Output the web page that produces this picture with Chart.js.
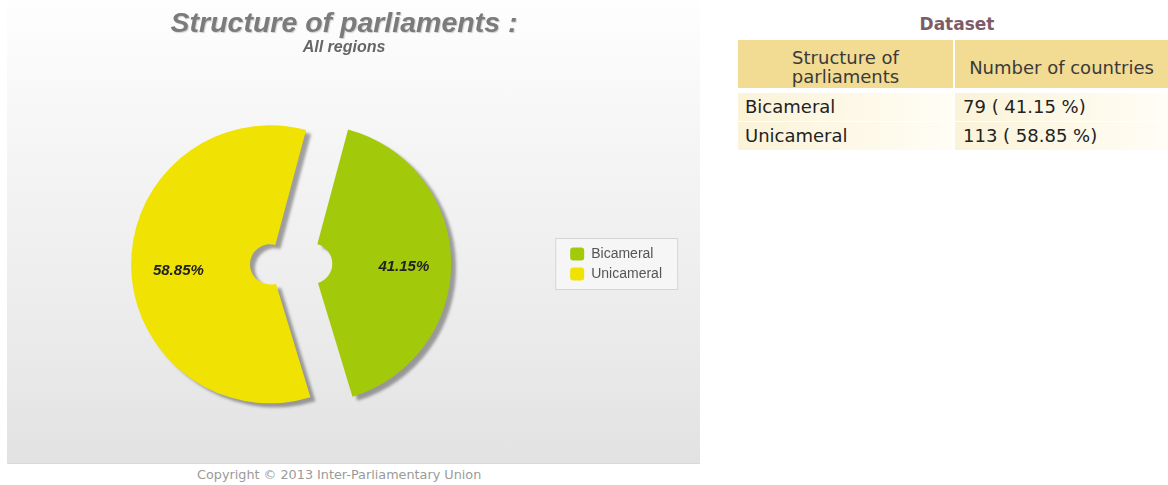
<!DOCTYPE html>
<html>
<head>
<meta charset="utf-8">
<title>Structure of parliaments</title>
<script src="https://cdn.jsdelivr.net/npm/chart.js@4.4.0/dist/chart.umd.min.js"></script>
<style>
  html, body { margin: 0; padding: 0; background: #fff; }
  body { width: 1168px; height: 485px; position: relative; overflow: hidden; font-family: "DejaVu Sans", Verdana, sans-serif; }
  #panel {
    position: absolute; left: 7px; top: 0; width: 693px; height: 463px;
    background: linear-gradient(to bottom, #fefefe 0%, #f4f4f4 35%, #eaeaea 75%, #e2e2e2 100%);
    border-bottom: 1px solid #d9d9d9;
  }
  #chartBox { position: absolute; left: 0; top: 0; width: 700px; height: 463px; }
  #title {
    position: absolute; left: 0; width: 688px; top: 8px; text-align: center;
    font: italic bold 28.5px/28px "Liberation Sans", Arial, sans-serif; color: #7b7b7b;
    text-shadow: 1px 1px 1px rgba(0, 0, 0, 0.18);
  }
  #subtitle {
    position: absolute; left: 0; width: 688px; top: 39px; text-align: center;
    font: italic bold 16px/15px "Liberation Sans", Arial, sans-serif; color: #666;
  }
  #copyright { position: absolute; left: 197px; top: 468px; font-size: 12.8px; line-height: 13px; color: #9a9a9a; white-space: nowrap; }
  #datasetTitle { position: absolute; left: 900px; width: 114px; top: 16px; text-align: center; font-weight: bold; font-size: 17px; line-height: 17px; color: #7d5c66; }
  .cell { position: absolute; box-sizing: border-box; font-size: 18px; color: #222; white-space: nowrap; }
  .head { background: #f2db92; color: #3a3a3a; text-align: center; line-height: 19px; display: flex; align-items: center; justify-content: center; padding-top: 6px; }
  .row { background: linear-gradient(to right, #fbf3d8, #fffdf5); line-height: 28px; }
</style>
</head>
<body>
  <div id="panel"></div>
  <div id="chartBox"><canvas id="structureChart"></canvas></div>
  <div id="title">Structure of parliaments :</div>
  <div id="subtitle">All regions</div>
  <div id="copyright">Copyright © 2013 Inter-Parliamentary Union</div>

  <div id="datasetTitle">Dataset</div>
  <div id="table"></div>

<script>
  // Data
  const parliamentLabels = ['Bicameral', 'Unicameral'];
  const countryCounts = [79, 113];
  const sliceColors = ['#a3c90b', '#f0e202'];
  const tableHeaders = ['Structure of<br>parliaments', 'Number of countries'];

  const total = countryCounts.reduce((a, b) => a + b, 0);
  const percents = countryCounts.map(v => (v / total * 100).toFixed(2));

  // Build the dataset table on the right
  const table = document.getElementById('table');
  const colLeft = [738, 955];
  const colWidth = [215, 213];

  tableHeaders.forEach((text, c) => {
    const cell = document.createElement('div');
    cell.className = 'cell head';
    cell.style.left = colLeft[c] + 'px';
    cell.style.width = colWidth[c] + 'px';
    cell.style.top = '40px';
    cell.style.height = '48px';
    cell.innerHTML = text;
    table.appendChild(cell);
  });

  parliamentLabels.forEach((label, i) => {
    const values = [label, countryCounts[i] + ' ( ' + percents[i] + ' %)'];
    values.forEach((text, c) => {
      const cell = document.createElement('div');
      cell.className = 'cell row';
      cell.style.left = colLeft[c] + 'px';
      cell.style.width = colWidth[c] + 'px';
      cell.style.top = (93 + i * 29) + 'px';
      cell.style.height = '28px';
      cell.style.paddingLeft = (c === 0 ? 7 : 8) + 'px';
      cell.textContent = text;
      table.appendChild(cell);
    });
  });

  // How far each slice is pulled out from the centre
  const explode = 21;

  // Draw the legend frame behind the legend items
  const legendFrame = {
    id: 'legendFrame',
    beforeDraw(chart) {
      const boxes = chart.legend && chart.legend.legendHitBoxes;
      if (!boxes || !boxes.length) return;
      const first = boxes[0];
      const last = boxes[boxes.length - 1];
      const x = first.left - 15;
      const y = first.top - 9;
      const h = last.top + last.height + 9 - y;
      const ctx = chart.ctx;
      ctx.save();
      ctx.fillStyle = '#f6f6f6';
      ctx.strokeStyle = '#d4d4d4';
      ctx.lineWidth = 1;
      ctx.fillRect(x, y, 123, h);
      ctx.strokeRect(x + 0.5, y + 0.5, 122, h - 1);
      ctx.restore();
    }
  };

  // Exploded slices with a soft drop shadow
  const explodePlugin = {
    id: 'explode',
    beforeDatasetDraw(chart, args) {
      const ctx = chart.ctx;
      ctx.save();
      ctx.shadowColor = 'rgba(0, 0, 0, 0.35)';
      ctx.shadowOffsetX = 5;
      ctx.shadowOffsetY = 4;
      ctx.shadowBlur = 3;
      args.meta.data.forEach(arc => {
        const mid = (arc.startAngle + arc.endAngle) / 2;
        ctx.save();
        ctx.translate(Math.cos(mid) * explode, Math.sin(mid) * explode);
        arc.draw(ctx);
        ctx.restore();
      });
      ctx.restore();
      return false;
    }
  };

  // Percent labels inside the slices
  const labelPlugin = {
    id: 'sliceLabels',
    afterDatasetsDraw(chart) {
      const ctx = chart.ctx;
      const meta = chart.getDatasetMeta(0);
      ctx.save();
      ctx.font = 'italic bold 15px "Liberation Sans", Arial, sans-serif';
      ctx.fillStyle = '#222';
      ctx.textAlign = 'center';
      ctx.textBaseline = 'middle';
      meta.data.forEach((arc, i) => {
        const mid = (arc.startAngle + arc.endAngle) / 2;
        const dist = explode + arc.outerRadius * 0.66;
        ctx.fillText(percents[i] + '%', arc.x + Math.cos(mid) * dist, arc.y + Math.sin(mid) * dist + 5);
      });
      ctx.restore();
    }
  };

  new Chart(document.getElementById('structureChart'), {
    type: 'doughnut',
    data: {
      labels: parliamentLabels,
      datasets: [{
        data: countryCounts,
        backgroundColor: sliceColors,
        borderWidth: 0
      }]
    },
    options: {
      responsive: true,
      maintainAspectRatio: false,
      animation: false,
      radius: 139,
      cutout: '14.5%',
      rotation: 15,
      layout: { padding: { left: 18, right: 28, top: 70, bottom: 5 } },
      plugins: {
        legend: {
          position: 'right',
          labels: {
            boxWidth: 14,
            boxHeight: 13,
            padding: 6,
            color: '#555',
            useBorderRadius: true,
            borderRadius: 3,
            font: { family: '"Liberation Sans", Arial, sans-serif', size: 14 }
          }
        },
        tooltip: { enabled: false }
      }
    },
    plugins: [legendFrame, explodePlugin, labelPlugin]
  });
</script>
</body>
</html>
